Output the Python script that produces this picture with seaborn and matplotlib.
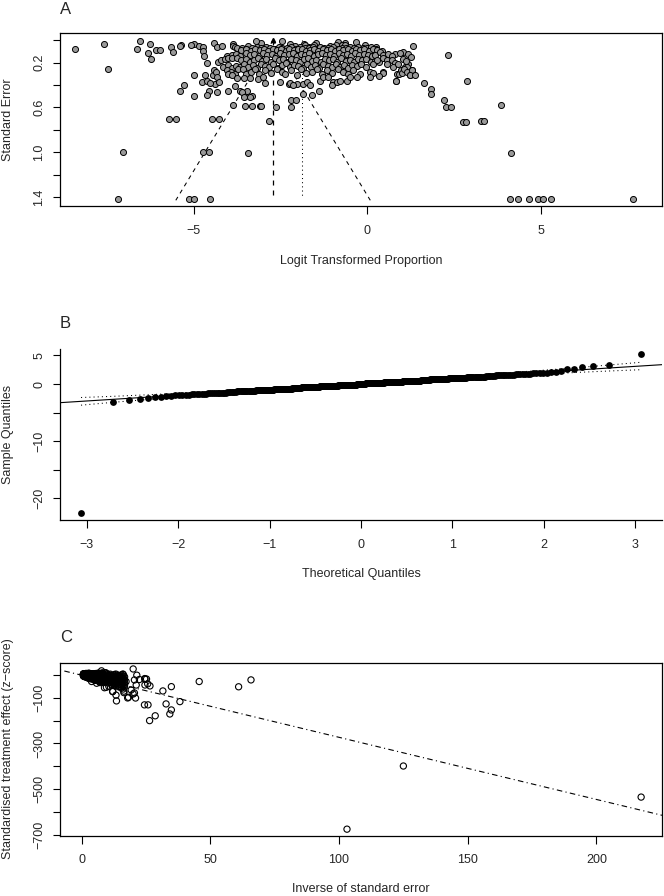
import statistics
import numpy as np
import pandas as pd
import matplotlib
matplotlib.use("Agg")
import matplotlib.pyplot as plt
import seaborn as sns

# ---------------- data ----------------
# panel A: logit proportion and its standard error, one pair per study
# studies with very small SE (they map back here)
top_pts = [(-0.63, .0219), (-0.33, .0152), (-0.85, .0164), (-1.47, .0287), (-2.22, .0317),
           (-3.06, .0262), (-3.87, .0305), (-4.40, .0287), (-4.99, .0292), (-6.26, .035),
           (-7.58, .0379), (-5.37, .041), (-5.08, .0388), (-1.81, .0377), (-1.79, .0407),
           (-0.73, .0407), (-0.71, .0397), (-4.83, .0478), (-3.85, .0488), (-2.08, .0472),
           (-1.07, .0488), (-0.89, .0446), (-0.05, .0467), (-0.65, .0408), (-1.52, .039),
           (-6.55, .0097), (-3.19, .008), (-2.46, .0046), (1.31, .05), (0.25, .0625),
           (2.34, .13), (-4.33, .061), (-6.63, .075), (-8.41, .074), (-5.38, .055),
           (-4.17, .05), (-5.64, .056), (-3.42, .052), (-4.72, .061), (-6.07, .083),
           (-5.96, .083), (-5.6, .104), (-1.68, .058)]

# scattered studies outside the dense cloud
sparse_pts = [(-7.46, .26), (-6.32, .113), (-6.24, .172), (-4.72, .095), (-4.69, .14), (-4.6, .2),
              (-5.0, .31), (-4.67, .31), (-4.76, .37), (-4.62, .36), (-4.38, .39), (-4.57, .45),
              (-4.33, .46), (-5.29, .40), (-5.38, .45), (-5.0, .50), (-4.62, .49), (-4.45, .31),
              (-4.4, .27), (-4.53, .38),
              (-5.72, .70), (-5.5, .70), (-4.47, .70), (-4.26, .70), (-7.02, 1.0), (-4.72, 1.0),
              (-4.55, 1.0), (-3.44, 1.01), (-7.18, 1.416), (-5.14, 1.42), (-4.99, 1.42), (-4.54, 1.42),
              (-3.86, .58), (-3.66, .45), (-3.51, .59), (-3.32, .59), (-3.52, .5), (-3.31, .5),
              (-3.09, .59), (-3.05, .59), (-2.82, .72), (-2.62, .6), (-3.46, .45), (-4.0, .45),
              (-3.8, .41), (-2.93, .38), (-2.19, .6), (-2.19, .53), (-2.04, .53), (-1.85, .48),
              (-1.6, .49), (-1.38, .45), (-2.25, .39), (-2.03, .39), (-2.51, .37), (-3.61, .46),
              (-3.54, .51), (-3.37, .51),
              (1.04, .107), (1.18, .125), (1.28, .154), (1.64, .38), (1.83, .44), (1.83, .48),
              (2.21, .53), (2.28, .6), (2.43, .6), (2.89, .36), (2.76, .73), (2.84, .73),
              (3.28, .72), (3.37, .72), (3.87, .58), (4.15, 1.01), (4.11, 1.42), (4.34, 1.42),
              (4.67, 1.42), (4.93, 1.42), (5.07, 1.42), (5.29, 1.42), (7.67, 1.415), (0.82, .36)]

# the dense cloud, row by row (top of the funnel downwards)
cloud_1 = [(-3.82, .062), (-3.75, .065), (-3.6, .07), (-3.5, .075), (-3.32, .065), (-3.18, .06),
           (-3.05, .07), (-2.92, .062), (-2.8, .065), (-2.66, .075), (-2.55, .06), (-2.44, .065),
           (-2.3, .07), (-2.2, .062), (-2.05, .075), (-1.94, .06), (-1.8, .065), (-1.66, .07),
           (-1.55, .062), (-1.45, .075), (-1.35, .06), (-1.25, .065), (-1.12, .07), (-0.98, .062),
           (-0.85, .075), (-0.72, .065), (-0.6, .07), (-0.5, .06), (-0.38, .065), (-0.25, .062),
           (-0.12, .07), (0.0, .065), (0.12, .062), (0.27, .075)]
cloud_2 = [(-3.62, .085), (-3.48, .078), (-3.35, .095), (-3.22, .08), (-3.1, .09), (-2.98, .077),
           (-2.85, .095), (-2.72, .08), (-2.6, .085), (-2.48, .076), (-2.35, .095), (-2.24, .078),
           (-2.12, .09), (-2.0, .08), (-1.88, .077), (-1.77, .095), (-1.64, .085), (-1.52, .078),
           (-1.4, .098), (-1.28, .08), (-1.16, .09), (-1.04, .077), (-0.92, .095), (-0.8, .08),
           (-0.68, .085), (-0.56, .078), (-0.44, .098), (-0.32, .077), (-0.2, .09), (-0.08, .08),
           (0.05, .095), (0.18, .078), (0.3, .09), (0.42, .1)]
cloud_3 = [(-4.05, .14), (-3.9, .13), (-3.78, .12), (-3.65, .14), (-3.5, .11), (-3.38, .13),
           (-3.25, .12), (-3.12, .145), (-3.0, .11), (-2.88, .13), (-2.75, .12), (-2.62, .14),
           (-2.5, .11), (-2.38, .135), (-2.26, .125), (-2.14, .115), (-2.02, .14), (-1.9, .12),
           (-1.78, .13), (-1.66, .11), (-1.54, .145), (-1.42, .125), (-1.3, .115), (-1.18, .135),
           (-1.06, .12), (-0.94, .14), (-0.82, .11), (-0.7, .13), (-0.58, .125), (-0.46, .145),
           (-0.34, .115), (-0.22, .135), (-0.1, .12), (0.02, .13), (0.15, .14), (0.23, .13),
           (0.37, .104), (0.47, .13), (0.61, .125), (0.81, .12), (0.95, .11), (0.72, .145)]
cloud_4 = [(-4.31, .19), (-4.2, .18), (-4.09, .17), (-4.0, .16), (-3.88, .155), (-3.75, .16),
           (-3.62, .18), (-3.5, .165), (-3.38, .19), (-3.26, .175), (-3.14, .16), (-3.02, .185),
           (-2.9, .17), (-2.78, .195), (-2.66, .16), (-2.54, .18), (-2.42, .17), (-2.3, .19),
           (-2.18, .165), (-2.06, .18), (-1.94, .195), (-1.82, .17), (-1.7, .16), (-1.58, .185),
           (-1.46, .175), (-1.34, .19), (-1.22, .165), (-1.1, .18), (-0.98, .17), (-0.86, .195),
           (-0.74, .16), (-0.62, .185), (-0.5, .175), (-0.38, .19), (-0.26, .165), (-0.14, .18),
           (-0.02, .17), (0.1, .19), (0.22, .185), (0.33, .19), (0.47, .16), (0.58, .175),
           (0.72, .18), (0.8, .2), (1.04, .17), (1.18, .21), (1.12, .185)]
cloud_5 = [(-4.14, .24), (-4.02, .22), (-3.9, .25), (-3.78, .23), (-3.66, .24), (-3.54, .21),
           (-3.42, .235), (-3.3, .22), (-3.18, .245), (-3.06, .21), (-2.94, .23), (-2.82, .24),
           (-2.7, .215), (-2.58, .25), (-2.46, .225), (-2.34, .205), (-2.22, .24), (-2.1, .22),
           (-1.98, .23), (-1.86, .245), (-1.74, .21), (-1.62, .235), (-1.5, .22), (-1.38, .25),
           (-1.26, .215), (-1.14, .23), (-1.02, .24), (-0.9, .21), (-0.78, .235), (-0.66, .225),
           (-0.54, .245), (-0.42, .22), (-0.3, .23), (-0.18, .21), (-0.02, .24), (0.18, .21),
           (0.28, .18), (0.57, .21), (0.76, .24), (0.9, .21), (1.09, .24), (1.14, .24)]
cloud_6 = [(-4.04, .27), (-3.92, .28), (-3.8, .30), (-3.71, .26), (-3.58, .26), (-3.49, .3),
           (-3.34, .28), (-3.23, .26), (-3.11, .3), (-2.95, .27), (-2.78, .29), (-2.6, .26),
           (-2.45, .28), (-2.37, .30), (-2.2, .27), (-2.03, .31), (-1.9, .26), (-1.75, .29),
           (-1.6, .28), (-1.45, .26), (-1.3, .3), (-1.15, .27), (-1.0, .29), (-0.85, .26),
           (-0.7, .28), (-0.55, .3), (-0.4, .27), (-0.21, .3), (0.08, .28), (0.17, .29),
           (0.47, .28), (0.85, .3), (0.92, .3), (0.97, .27), (1.0, .29), (1.05, .26),
           (1.14, .28), (1.29, .27), (1.23, .31), (1.3, .27)]
cloud_7 = [(-4.36, .28), (-4.33, .33), (-4.28, .37), (-4.0, .30), (-3.9, .31), (-3.75, .34),
           (-3.54, .34), (-3.37, .34), (-3.13, .35), (-3.01, .33), (-2.22, .38), (-2.13, .40),
           (-1.84, .39), (-1.74, .37), (-1.65, .40), (-1.36, .36), (-1.26, .33), (-1.12, .33),
           (-0.98, .37), (-1.02, .40), (-0.88, .37), (-0.78, .36), (-0.59, .36), (-0.5, .33),
           (-0.3, .33), (0.08, .33), (0.84, .36), (1.23, .31), (1.38, .31), (0.47, .29),
           (0.33, .32)]

pooled_est = -2.71   # dashed centre line of the funnel
other_est = -1.87    # dotted line
funnel_se = 1.43     # funnel drawn down to this SE

# panel B: sorted sample quantiles (tails listed, middle given as 0.1 bins with counts)
qq_low = [-22.6, -3.2, -2.8, -2.6, -2.5, -2.35]
qq_bin_val = [-2.2, -2.1, -2.0, -1.9, -1.8, -1.7, -1.6, -1.5, -1.4, -1.3, -1.2, -1.1, -1.0,
              -0.9, -0.8, -0.7, -0.6, -0.5, -0.4, -0.3, -0.2, -0.1, 0.0, 0.1, 0.2, 0.3, 0.4,
              0.5, 0.6, 0.7, 0.8, 0.9, 1.0, 1.1, 1.2, 1.3, 1.4, 1.5, 1.6, 1.7, 1.8, 1.9, 2.0,
              2.1, 2.2]
qq_bin_n = [1, 2, 2, 3, 3, 4, 5, 6, 7, 8, 9, 10, 11, 12, 13, 14, 15, 16, 17, 17, 18, 18,
            18,
            18, 18, 17, 17, 16, 15, 14, 13, 12, 11, 10, 9, 8, 7, 6, 5, 4, 3, 3, 2, 2, 1]
qq_high = [2.55, 2.7, 2.9, 3.15, 3.25, 5.2]
qq_int, qq_slope = 0.06, 1.01
env_z = [-3.06, -2.7, -2.4, -2.0, -1.5, -1.0, 0.0, 1.0, 1.5, 2.0, 2.4, 2.7, 3.06]
env_half = [0.67, 0.52, 0.43, 0.34, 0.26, 0.21, 0.17, 0.21, 0.26, 0.34, 0.43, 0.52, 0.65]

# panel C: regression line of the Galbraith plot
egger_int, egger_slope = -1.1, -2.72

# ---------------- build frames ----------------
all_pts = top_pts + sparse_pts + cloud_1 + cloud_2 + cloud_3 + cloud_4 + cloud_5 + cloud_6 + cloud_7
df = pd.DataFrame(all_pts, columns=["logit", "se"])
df["precision"] = 1 / df["se"]
df["z"] = df["logit"] / df["se"]

sample = np.sort(np.concatenate([qq_low, np.repeat(qq_bin_val, qq_bin_n), qq_high]))
n = len(sample)
nd = statistics.NormalDist()
theo = np.array([nd.inv_cdf((i - 0.5) / n) for i in range(1, n + 1)])
df_qq = pd.DataFrame({"theo": theo, "sample": sample})

# ---------------- figure ----------------
sns.set_style("ticks")
plt.rcParams["font.family"] = ["Liberation Sans", "DejaVu Sans"]

W, H = 664, 896
fig = plt.figure(figsize=(W / 100, H / 100), dpi=100)


def px_axes(left, top, right, bottom):
    return fig.add_axes([left / W, 1 - bottom / H, (right - left) / W, (bottom - top) / H])


def style(ax, box=True):
    for side in ["top", "right"]:
        ax.spines[side].set_visible(box)
    for sp in ax.spines.values():
        sp.set_linewidth(0.9)
        sp.set_color("black")
    ax.tick_params(direction="out", length=5.4, width=0.8, color="black",
                   labelsize=9, pad=8, top=False, right=False)
    ax.tick_params(axis="y", labelrotation=90, pad=5)
    for lab in ax.get_yticklabels():
        lab.set_va("center")


def ftext(x, y, s, **kw):
    fig.text(x / W, 1 - y / H, s, **kw)


axA = px_axes(60, 33.3, 662, 206)
axB = px_axes(60, 349.3, 662, 520)
axC = px_axes(60, 663.3, 662, 835.5)

# --- A: funnel plot
axA.plot([pooled_est, pooled_est - 1.96 * funnel_se], [0, funnel_se], color="black",
         lw=0.75, ls=(0, (4, 4)), zorder=1)
axA.plot([pooled_est, pooled_est + 1.96 * funnel_se], [0, funnel_se], color="black",
         lw=0.75, ls=(0, (4, 4)), zorder=1)
axA.plot([pooled_est, pooled_est], [0, funnel_se], color="black", lw=0.9,
         ls=(0, (4, 4)), zorder=1)
axA.plot([other_est, other_est], [0, funnel_se - 0.02], color="black", lw=0.75,
         ls=(0, (1, 3)), zorder=1)
axA.plot([pooled_est], [0.0], marker="^", ms=3, color="black", zorder=1)
sns.scatterplot(data=df, x="logit", y="se", ax=axA, color="#999999", edgecolor="black",
                linewidth=0.7, s=19, zorder=3, legend=False)
axA.set_xlim(-8.85, 8.5)
axA.set_ylim(1.481, -0.062)
axA.set_xticks([-5, 0, 5], ["−5", "0", "5"])
axA.set_yticks([0, 0.2, 0.4, 0.6, 0.8, 1.0, 1.2, 1.4],
               ["", "0.2", "", "0.6", "", "1.0", "", "1.4"])
axA.set_xlabel("")
axA.set_ylabel("")
style(axA)

# --- B: normal QQ plot
sns.lineplot(x=env_z, y=np.array(env_z) * qq_slope + qq_int + np.array(env_half), ax=axB,
             color="black", lw=0.75, ls=(0, (1, 3)), sort=False)
sns.lineplot(x=env_z, y=np.array(env_z) * qq_slope + qq_int - np.array(env_half), ax=axB,
             color="black", lw=0.75, ls=(0, (1, 3)), sort=False)
axB.axline((0, qq_int), slope=qq_slope, color="black", lw=0.8)
sns.scatterplot(data=df_qq, x="theo", y="sample", ax=axB, color="black", edgecolor="black",
                linewidth=0, s=24, zorder=3, legend=False)
axB.set_xlim(-3.29, 3.29)
axB.set_ylim(-23.78, 6.07)
axB.set_xticks([-3, -2, -1, 0, 1, 2, 3], ["−3", "−2", "−1", "0", "1", "2", "3"])
axB.set_yticks([5, 0, -5, -10, -15, -20], ["5", "0", "", "−10", "", "−20"])
axB.set_xlabel("")
axB.set_ylabel("")
style(axB, box=False)

# --- C: Galbraith plot
axC.axline((0, egger_int), slope=egger_slope, color="black", lw=0.8, ls=(0, (1, 3, 5, 3)))
sns.scatterplot(data=df, x="precision", y="z", ax=axC, color="white", edgecolor="black",
                linewidth=0.8, s=20, zorder=3, legend=False)
axC.collections[-1].set_facecolor("none")
axC.set_xlim(-8.43, 225.5)
axC.set_ylim(-703, 51)
axC.set_xticks([0, 50, 100, 150, 200])
axC.set_yticks([0, -100, -200, -300, -400, -500, -600, -700],
               ["", "−100", "", "−300", "", "−500", "", "−700"])
axC.set_xlabel("")
axC.set_ylabel("")
style(axC)

# --- labels
for ttl, y in [("A", 10), ("B", 323), ("C", 638)]:
    ftext(60, y, ttl, fontsize=12, ha="left", va="center")
ftext(8, 119.5, "Standard Error", fontsize=9, rotation=90, ha="center", va="center")
ftext(361, 261, "Logit Transformed Proportion", fontsize=9, ha="center", va="center")
ftext(8, 434.6, "Sample Quantiles", fontsize=9, rotation=90, ha="center", va="center")
ftext(361, 574, "Theoretical Quantiles", fontsize=9, ha="center", va="center")
ftext(8, 749, "Standardised treatment effect (z−score)", fontsize=9, rotation=90,
      ha="center", va="center")
ftext(361, 889, "Inverse of standard error", fontsize=9, ha="center", va="center")

fig.savefig("out.png", dpi=100, facecolor="white")
